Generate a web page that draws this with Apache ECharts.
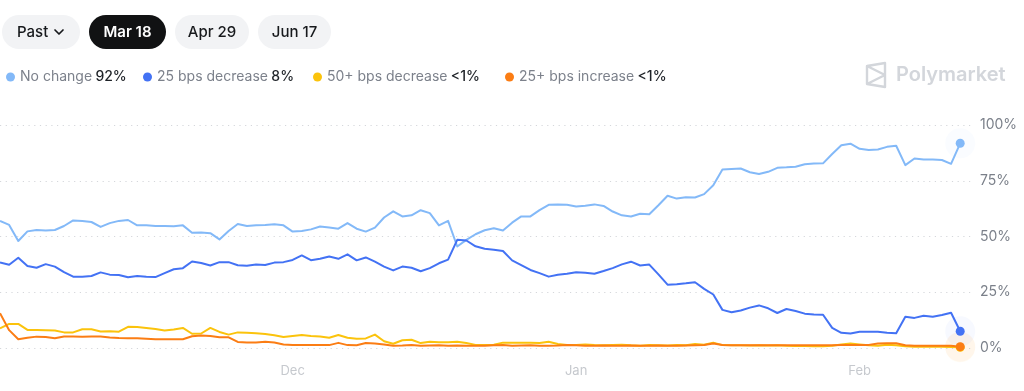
<!DOCTYPE html>
<html>
<head>
<meta charset="utf-8">
<script src="https://cdn.jsdelivr.net/npm/echarts@6/dist/echarts.min.js"></script>
<style>
html,body{margin:0;padding:0;background:#fff;}
#chart{width:1024px;height:391px;}
</style>
</head>
<body>
<div id="chart"></div>
<script>
// ---- DATA (one value per day, starting 2024-10-30) ----
const startDate = '2024-10-30';
const seriesNames = ['No change', '25 bps decrease', '50+ bps decrease', '25+ bps increase'];
const legendValues = ['92%', '8%', '<1%', '<1%'];
const monthLabels = ['Dec', 'Jan', 'Feb'];
const monthDates = ['2024-12-01', '2025-01-01', '2025-02-01'];
const yTicks = [0, 25, 50, 75, 100];

const noChange = [57,55.2,48,52.3,52.9,52.7,52.9,54.7,57.2,57,56.5,54.3,56,57,57.4,55,55,54.7,54.7,54.6,
  55,51.7,51.8,51.5,48.7,52.5,55.6,54.7,55,55.2,55.5,55,52.2,52.5,53.2,54.5,54,53.5,56,53.5,
  52.2,54,58.5,61.3,59,59.5,61.8,60.5,55,57,45.5,48.5,51,52.8,53.7,52.7,56.2,59,59,61.8,
  64.2,64.3,64.2,63.5,63.8,64.4,63.7,61.2,59.5,59,60.2,60,64,68.3,67,67.6,67.5,69,73,80,
  80.3,80.5,78.8,78,79,80.8,81,81.3,82.4,82.7,82.8,87,90.9,91.6,89.3,88.8,89,90.2,90.7,82,
  85,84.5,84.5,84.3,82.6,91.8];
const dec25 = [38.3,37.3,40.5,36.8,36,37.6,36.5,34,32,32,32.3,33.9,32.9,32.7,31.7,32.3,32,31.8,33.6,35.3,
  35.8,38.8,38.1,37,38.5,38.5,37.1,36.9,37.4,37.2,38.3,38.5,39.5,41.5,39.4,40,41,40,42,39.3,
  40.6,38.7,36.5,34.8,36.5,36,34.4,35.8,38,39.6,48.5,48.2,45.6,44.5,44.1,43.5,39.3,37.2,35,33.6,
  32,32.8,33.3,34,33.7,33.3,34.5,35.8,37.5,38.7,37,37.4,33,28.4,28.6,29,29.5,26.5,24,17.1,
  16,16.8,18.1,19.1,17.8,15.7,17.5,16.6,15.4,15,14.9,9,6.8,6.5,7.3,7.3,7.3,6.8,6.6,14,
  13.5,14.5,14,14.8,15.8,7.5];
const dec50 = [8.8,10.8,10.8,8.1,8.1,8,7.8,7,7,8.4,8.4,7.4,7.5,7.3,9.5,9.4,9,8.5,7.8,8.3,
  9,6.4,6.5,9,7.2,6,7,6.8,6.6,6.3,5.7,4.9,5.4,5.8,5.4,5.2,4.6,5.8,4.6,4.2,
  4.3,6,3,1.9,3.5,3.7,2.2,2.8,2.6,2.6,2.8,2.2,1.4,1.3,1.5,2.4,2.4,2.4,2.4,2.2,
  2.8,1.8,1.4,1.3,1.6,1.3,1.2,1.4,1.5,1.2,1,1.3,1.2,1.1,1.3,1.2,1.8,1.5,2.4,1.3,
  1.2,1.2,1.1,1.2,1.1,1.2,1,0.9,0.9,0.8,0.8,1,1.6,2,1.6,1.2,1,1.5,1.2,0.8,
  0.6,0.6,0.6,0.6,0.5,0.3];
const inc25 = [15.6,8,3.9,4.6,5.1,4.9,4.4,5.2,5.2,5.1,5.2,5.2,4.7,4.5,4.4,4.4,4.2,3.9,3.9,3.9,
  3.9,5.3,5.6,5.4,4.8,4.8,2.7,2.5,2.5,2.8,2.5,1.6,1.3,1.3,1.3,1.3,1.3,2.3,1.3,1.2,
  2.2,2,1.6,1,1.1,1.3,1,1.1,1.2,1,1.1,1,1,1,1.2,1.3,1,1.1,1.2,1,
  1,1.1,1.3,1.2,1,1,1.1,1,1,1.1,1,1,1.1,1,1,1.1,1.2,1.3,2,1.3,
  1.2,1.2,1.2,1.2,1.2,1.2,1.2,1.2,1.2,1.2,1.2,1.2,1.3,1.4,1.3,1.4,2,2.1,2.1,1.2,
  1,1,1,1,1,0.6];

const colors = ['#83B9F8', '#4372F4', '#FBC30C', '#FB7D14'];

// ---- build ----
const DAY = 86400000;
const t0 = Date.parse(startDate + 'T00:00:00Z');
const toPairs = vals => vals.map((v, i) => [t0 + i * DAY, v]);
const allVals = [noChange, dec25, dec50, inc25];
const monthTimes = monthDates.map(d => Date.parse(d + 'T00:00:00Z'));

const lineSeries = allVals.map((vals, k) => ({
  name: seriesNames[k], type: 'line', data: toPairs(vals),
  showSymbol: false, symbol: 'none', smooth: false,
  lineStyle: { color: colors[k], width: 2, join: 'round' },
  itemStyle: { color: colors[k] }, z: 3 + k
}));
const haloSeries = allVals.map((vals, k) => ({
  type: 'scatter', silent: true, z: 2,
  data: [[t0 + (vals.length - 1) * DAY, vals[vals.length - 1]]],
  symbolSize: 30, itemStyle: { color: colors[k], opacity: 0.045 }
}));
const dotSeries = allVals.map((vals, k) => ({
  type: 'scatter', silent: true, z: 10,
  data: [[t0 + (vals.length - 1) * DAY, vals[vals.length - 1]]],
  symbolSize: 9, itemStyle: { color: colors[k], opacity: 1 }
}));

const FONT = 'Inter, "Noto Sans", sans-serif';
const pill = (x, w, fill) => ({ type: 'rect', shape: { x: x, y: 15, width: w, height: 34, r: 17 }, style: { fill: fill } });
const ptext = (x, txt, color, weight) => ({ type: 'text', x: x, y: 32, style: { text: txt, fill: color, font: weight + ' 15px ' + FONT, textAlign: 'center', textVerticalAlign: 'middle' } });

const legendLefts = [1, 138, 308, 500];
const legends = seriesNames.map((name, k) => ({
  data: [name], left: legendLefts[k], top: 65, icon: 'circle', itemWidth: 9, itemHeight: 9,
  selectedMode: false,
  formatter: n => '{n|' + n + '} {v|' + legendValues[k] + '}',
  textStyle: {
    rich: {
      n: { color: '#7c818b', fontSize: 14, fontFamily: FONT },
      v: { color: '#1e2227', fontSize: 14, fontWeight: 500, fontFamily: FONT }
    }
  }
}));

const chart = echarts.init(document.getElementById('chart'), null, { renderer: 'canvas' });
chart.setOption({
  animation: false,
  backgroundColor: '#fff',
  textStyle: { fontFamily: FONT },
  grid: { left: 0, right: 52, top: 125, bottom: 43, containLabel: false },
  legend: legends,
  xAxis: {
    type: 'value', min: t0, max: t0 + 106.29 * DAY,
    axisLine: { show: false }, axisTick: { show: false }, splitLine: { show: false },
    axisLabel: {
      customValues: monthTimes,
      formatter: v => monthLabels[monthTimes.indexOf(+v)] || '',
      color: '#c6c9ce', fontSize: 13, margin: 17, fontFamily: FONT
    }
  },
  yAxis: {
    type: 'value', position: 'right', min: 0, max: 100, interval: 25,
    axisLine: { show: false }, axisTick: { show: false },
    axisLabel: { formatter: '{value}%', color: '#7b808a', fontSize: 14, margin: 8, fontFamily: FONT },
    splitLine: { show: true, lineStyle: { color: '#d5d7db', width: 1, type: [1.2, 4.5] } }
  },
  series: lineSeries.concat(haloSeries, dotSeries),
  graphic: [
    pill(2, 78, '#f2f3f5'),
    pill(89, 77, '#111213'),
    pill(175, 74, '#f2f3f5'),
    pill(258, 73, '#f2f3f5'),
    { type: 'text', x: 17, y: 32, style: { text: 'Past', fill: '#17191c', font: '500 15px ' + FONT, textAlign: 'left', textVerticalAlign: 'middle' } },
    { type: 'polyline', shape: { points: [[55, 30], [59, 34], [63, 30]] }, style: { stroke: '#17191c', lineWidth: 1.7, fill: null, lineCap: 'round', lineJoin: 'round' } },
    ptext(127.5, 'Mar 18', '#ffffff', '600'),
    ptext(212, 'Apr 29', '#17191c', '500'),
    ptext(294.5, 'Jun 17', '#17191c', '500'),
    { type: 'polyline', shape: { points: [[867, 66], [885, 63], [885, 87], [867, 84], [867, 66], [885, 75], [867, 84]] }, style: { stroke: '#d3d6db', lineWidth: 2.4, fill: null, lineJoin: 'round' } },
    { type: 'text', x: 896, y: 75, style: { text: 'Polymarket', fill: '#d3d6db', font: '600 20px ' + FONT, textAlign: 'left', textVerticalAlign: 'middle' } }
  ]
});
</script>
</body>
</html>
